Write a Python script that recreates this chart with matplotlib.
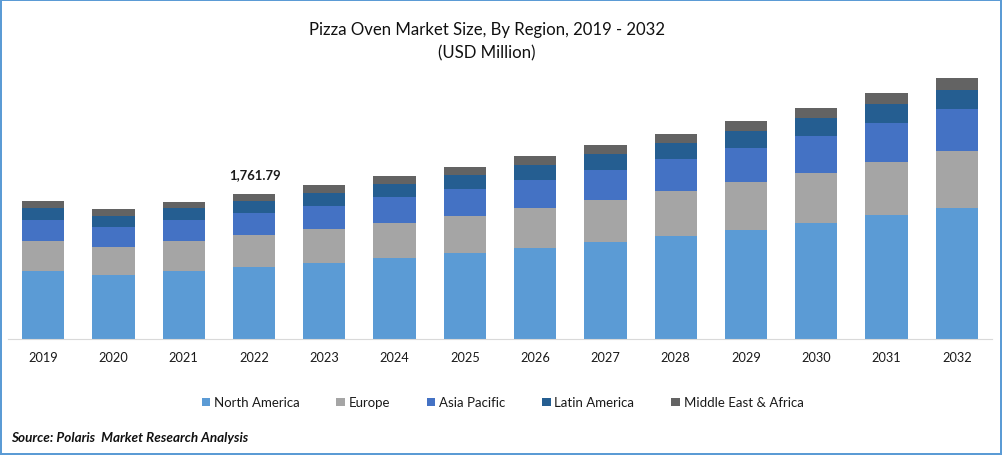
import matplotlib
matplotlib.use("Agg")
import matplotlib.pyplot as plt
from matplotlib.patches import Rectangle
import numpy as np

FONT = "Lato"
BORDER = "#5B9BD5"

years = ["2019", "2020", "2021", "2022", "2023", "2024", "2025",
         "2026", "2027", "2028", "2029", "2030", "2031", "2032"]

north_america = [826, 778, 826, 875, 923, 984, 1045, 1106, 1179, 1251, 1324, 1409, 1507, 1592]
europe = [365, 340, 365, 389, 413, 425, 450, 486, 510, 547, 583, 608, 644, 693]
asia_pacific = [255, 243, 255, 267, 279, 316, 328, 340, 365, 389, 413, 450, 474, 510]
latin_america = [146, 134, 146, 146, 158, 158, 170, 182, 194, 194, 207, 219, 231, 231]
middle_east = [85, 85, 73, 85, 97, 97, 97, 109, 109, 109, 122, 122, 134, 146]

series = [
    ("North America", north_america, "#5B9BD5"),
    ("Europe", europe, "#A5A5A5"),
    ("Asia Pacific", asia_pacific, "#4472C4"),
    ("Latin America", latin_america, "#255E91"),
    ("Middle East & Africa", middle_east, "#636363"),
]

W, H = 1002, 456
fig = plt.figure(figsize=(W / 100, H / 100), dpi=100, facecolor="white")
ax = fig.add_axes([8 / W, 1 - 340 / H, 984 / W, 279 / H])

x = np.arange(len(years))
bottom = np.zeros(len(years))
for name, values, color in series:
    ax.bar(x, values, width=0.6, bottom=bottom, color=color, label=name)
    bottom += np.array(values)

ax.set_xlim(-0.5, 13.5)
ax.set_ylim(0, 3390)
ax.set_yticks([])
ax.set_xticks(x)
ax.set_xticklabels(years, fontsize=9.2, family=FONT, color="#1a1a1a")
ax.tick_params(axis="x", length=0, pad=9)
for side in ["top", "left", "right"]:
    ax.spines[side].set_visible(False)
ax.spines["bottom"].set_color("#D9D9D9")

# only 2022 carries a value label
ax.annotate("1,761.79", (3, bottom[3]), xytext=(0.7, 14), textcoords="offset points",
            ha="center", va="center", fontsize=9.4, fontweight="bold",
            family=FONT, color="#1a1a1a")

fig.text(487 / W, 1 - 30 / H, "Pizza Oven Market Size, By Region, 2019 - 2032",
         ha="center", va="center", fontsize=12.1, family=FONT, color="#111111")
fig.text(487 / W, 1 - 53 / H, "(USD Million)",
         ha="center", va="center", fontsize=12.1, family=FONT, color="#111111")

leg = fig.legend(loc="center", bbox_to_anchor=(502.5 / W, 1 - 403.5 / H), ncols=5,
                 frameon=False, handlelength=0.62, handleheight=0.62, handletextpad=0.3,
                 columnspacing=2.8, borderpad=0, borderaxespad=0,
                 prop={"family": FONT, "size": 9.5})
for t in leg.get_texts():
    t.set_color("#1a1a1a")

fig.text(11 / W, 1 - 438 / H, "Source: Polaris  Market Research Analysis",
         ha="left", va="center", fontsize=9.7, fontweight="bold", style="italic",
         family=FONT, color="#111111")

# blue frame round the whole picture
fig.add_artist(Rectangle((1 / W, 1 / H), 1000 / W, 454 / H, transform=fig.transFigure,
                         fill=False, edgecolor=BORDER, linewidth=1.44))

fig.savefig("out.png", dpi=100, facecolor="white")
